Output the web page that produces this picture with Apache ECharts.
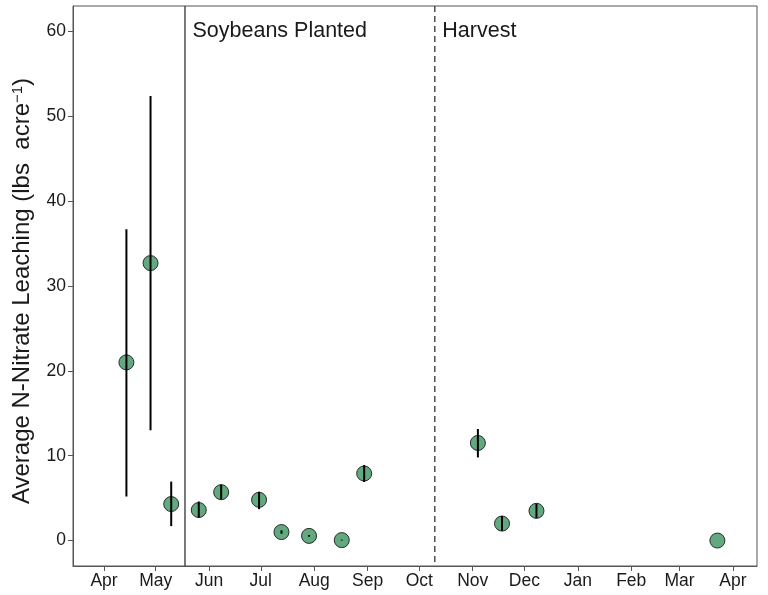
<!DOCTYPE html>
<html>
<head>
<meta charset="utf-8">
<script src="https://cdn.jsdelivr.net/npm/echarts@6/dist/echarts.min.js"></script>
<style>
html,body{margin:0;padding:0;background:#fff;}
#chart{width:768px;height:595px;}
</style>
</head>
<body>
<div id="chart"></div>
<script>
// ---- Data ----
var sampleDates = ['2020-04-14','2020-04-28','2020-05-10','2020-05-26','2020-06-08','2020-06-30','2020-07-13','2020-07-29','2020-08-17','2020-08-30','2020-11-04','2020-11-18','2020-12-08','2021-03-23'];
var meanLeaching = [21.0, 32.7, 4.3, 3.6, 5.7, 4.8, 1.0, 0.55, 0.05, 7.9, 11.5, 2.0, 3.5, 0.0];
var lowerLeaching = [5.2, 13.0, 1.7, 2.7, 4.85, 3.7, 0.8, 0.45, 0.0, 6.9, 9.8, 1.15, 2.65, 0.0];
var upperLeaching = [36.7, 52.4, 6.95, 4.6, 6.6, 5.75, 1.2, 0.65, 0.1, 8.9, 13.15, 2.9, 4.35, 0.0];

var monthTicks = ['2020-04-01','2020-05-01','2020-06-01','2020-07-01','2020-08-01','2020-09-01','2020-10-01','2020-11-01','2020-12-01','2021-01-01','2021-02-01','2021-03-01','2021-04-01'];
var monthLabels = ['Apr','May','Jun','Jul','Aug','Sep','Oct','Nov','Dec','Jan','Feb','Mar','Apr'];
var yTicks = [0, 10, 20, 30, 40, 50, 60];

var eventDates = ['2020-05-18', '2020-10-10'];
var eventLabels = ['Soybeans Planted', 'Harvest'];
var eventLineTypes = ['solid', 'dashed'];

var xMin = '2020-03-14';
var xMax = '2021-04-15';
var yMin = -3;
var yMax = 63;

// ---- Build ----
function ts(s){ var p = s.split('-'); return Date.UTC(+p[0], +p[1]-1, +p[2]); }
var tickTs = monthTicks.map(ts);

var pointData = sampleDates.map(function(d,i){ return [ts(d), meanLeaching[i]]; });
var errData = sampleDates.map(function(d,i){ return [ts(d), lowerLeaching[i], upperLeaching[i]]; });
var eventData = eventDates.map(function(d,i){ return [ts(d), i]; });

var textColor = '#1a1a1a';
var frameColor = '#555';
var font = 'Liberation Sans, Arial, sans-serif';

var option = {
  animation: false,
  backgroundColor: '#fff',
  grid: {left: 73, right: 11, top: 6, bottom: 29, show: true, borderColor: frameColor, borderWidth: 1, containLabel: false},
  xAxis: {
    type: 'value',
    min: ts(xMin), max: ts(xMax),
    splitLine: {show: false},
    axisLine: {show: true, onZero: false, lineStyle: {color: frameColor, width: 1}},
    axisTick: {show: true, inside: false, length: 5, lineStyle: {color: '#555', width: 1}, customValues: tickTs},
    axisLabel: {
      customValues: tickTs,
      color: textColor, fontSize: 17.5, fontFamily: font, margin: 6,
      formatter: function(v){
        for (var k = 0; k < tickTs.length; k++) { if (Math.abs(tickTs[k] - v) < 43200000) return monthLabels[k]; }
        return '';
      }
    }
  },
  yAxis: {
    type: 'value',
    min: yMin, max: yMax,
    splitLine: {show: false},
    axisLine: {show: true, onZero: false, lineStyle: {color: frameColor, width: 1}},
    axisTick: {show: true, inside: false, length: 5, lineStyle: {color: '#555', width: 1}, customValues: yTicks},
    axisLabel: {customValues: yTicks, color: textColor, fontSize: 17.5, fontFamily: font, margin: 7},
    name: 'Average N-Nitrate Leaching (lbs  acre{sup|\u22121})',
    nameLocation: 'middle',
    nameGap: 38,
    nameTextStyle: {
      color: textColor, fontSize: 24, fontFamily: font, padding: [0, 10, 0, 0],
      rich: {sup: {fontSize: 15, color: textColor, fontFamily: font, verticalAlign: 'top', padding: [0,0,10,0]}}
    }
  },
  series: [
    {
      type: 'custom',
      z: 1,
      data: eventData,
      encode: {x: 0, y: 1},
      silent: true,
      renderItem: function(params, api){
        var i = api.value(1);
        var top = api.coord([api.value(0), yMax]);
        var bot = api.coord([api.value(0), yMin]);
        return {
          type: 'group',
          children: [
            {type: 'line', shape: {x1: top[0], y1: top[1], x2: bot[0], y2: bot[1]},
             style: {stroke: '#333', lineWidth: 1.3, lineDash: eventLineTypes[i] === 'dashed' ? [6, 4] : null}},
            {type: 'text', x: top[0] + 7.5, y: top[1] + 25,
             style: {text: eventLabels[i], fill: textColor, fontSize: 21.5, fontFamily: font, verticalAlign: 'middle', align: 'left'}}
          ]
        };
      }
    },
    {
      type: 'scatter',
      z: 2,
      data: pointData,
      symbol: 'circle',
      symbolSize: 15,
      itemStyle: {color: '#62a97f', borderColor: '#2b2b2b', borderWidth: 1, opacity: 1}
    },
    {
      type: 'custom',
      z: 3,
      data: errData,
      encode: {x: 0, y: [1, 2]},
      silent: true,
      renderItem: function(params, api){
        var lo = api.coord([api.value(0), api.value(1)]);
        var hi = api.coord([api.value(0), api.value(2)]);
        return {type: 'line', shape: {x1: lo[0], y1: lo[1], x2: hi[0], y2: hi[1]}, style: {stroke: '#000', lineWidth: 2}};
      }
    }
  ]
};

var chart = echarts.init(document.getElementById('chart'), null, {renderer: 'canvas'});
chart.setOption(option);
</script>
</body>
</html>
